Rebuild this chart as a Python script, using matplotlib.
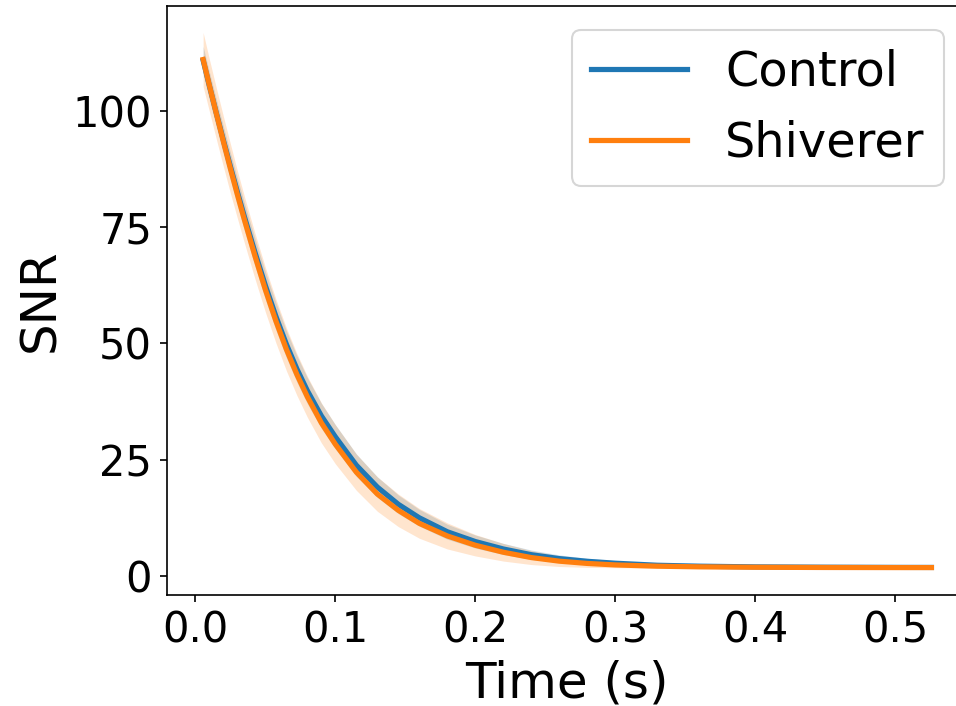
import matplotlib
matplotlib.use('Agg')
import matplotlib.pyplot as plt
import numpy as np

# time axis (s) and mean SNR per group
time = [0.0055, 0.01, 0.015, 0.02, 0.025, 0.03, 0.035, 0.0425, 0.05, 0.0575, 0.065,
        0.0725, 0.08, 0.09, 0.1, 0.115, 0.13, 0.145, 0.16, 0.18, 0.2, 0.22, 0.24,
        0.26, 0.28, 0.3, 0.33, 0.36, 0.4, 0.45, 0.5, 0.526]
control = [110.8, 105.3, 99.4, 93.6, 88.0, 82.5, 77.2, 69.6, 62.4, 55.8, 49.8,
           44.5, 39.8, 34.4, 29.9, 23.8, 19.1, 15.4, 12.5, 9.5, 7.4, 5.8, 4.57,
           3.73, 3.15, 2.74, 2.3, 2.1, 1.95, 1.88, 1.84, 1.83]
shiverer = [111.0, 105.4, 99.3, 93.35, 87.55, 81.95, 76.55, 68.8, 61.5, 54.8, 48.7,
            43.3, 38.5, 32.9, 28.3, 22.3, 17.6, 14.1, 11.3, 8.6, 6.6, 5.1, 3.95,
            3.18, 2.69, 2.37, 2.1, 1.96, 1.87, 1.82, 1.8, 1.8]
# spread (std) used for the shaded bands
control_std = [3.0, 3.0, 3.0, 3.0, 3.0, 3.0, 3.0, 3.0, 3.0, 2.95, 2.9,
               2.85, 2.8, 2.7, 2.6, 2.4, 2.2, 2.0, 1.8, 1.6, 1.4, 1.2, 1.0,
               0.8, 0.65, 0.5, 0.35, 0.25, 0.15, 0.1, 0.08, 0.08]
shiverer_std = [5.8, 5.6, 5.5, 5.4, 5.3, 5.1, 5.0, 4.9, 4.8, 4.7, 4.6,
                4.5, 4.4, 4.3, 4.2, 3.9, 3.7, 3.5, 3.2, 2.8, 2.3, 1.9, 1.5,
                1.15, 0.85, 0.6, 0.4, 0.3, 0.2, 0.15, 0.1, 0.1]

t = np.array(time)
groups = [('Control', np.array(control), np.array(control_std), 'C0'),
          ('Shiverer', np.array(shiverer), np.array(shiverer_std), 'C1')]

fig = plt.figure(figsize=(956 / 150, 706 / 150), dpi=150)
ax = fig.add_axes([0.1744, 0.1572, 0.838, 0.8347])

for name, m, s, c in groups:
    ax.fill_between(t, m - s, m + s, color=c, alpha=0.2, lw=0)
for name, m, s, c in groups:
    ax.plot(t, m, color=c, lw=2.5, label=name)

ax.set_xticks(np.arange(0, 0.51, 0.1))
ax.set_yticks([0, 25, 50, 75, 100])
ax.tick_params(labelsize=20)
ax.set_xlabel('Time (s)', fontsize=24)
ax.set_ylabel('SNR', fontsize=24)
ax.spines['right'].set_visible(False)

ax.legend(fontsize=23, loc='upper right')
fig.savefig('out.png', dpi=150)
